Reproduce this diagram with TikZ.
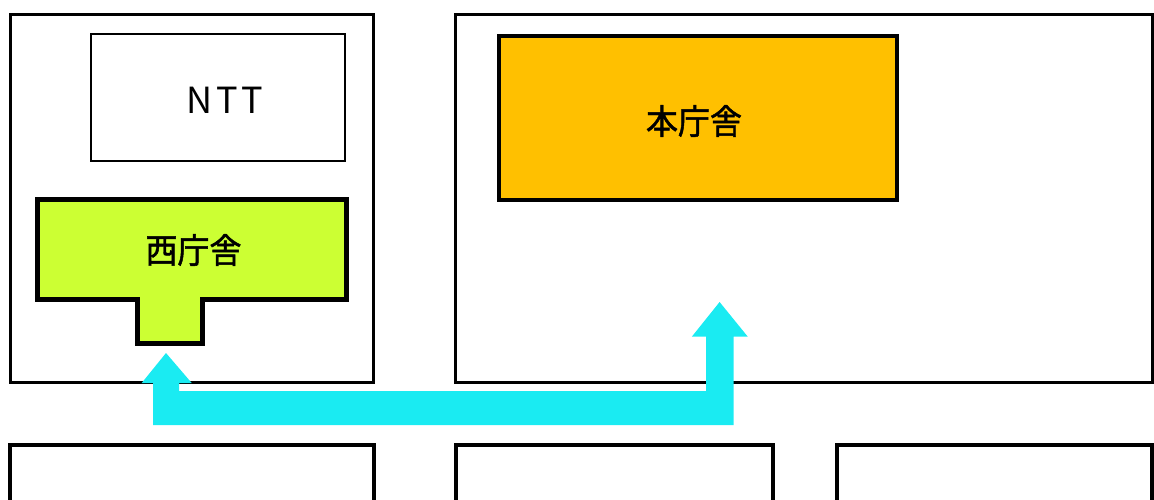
\documentclass[tikz,border=0pt]{standalone}
\usepackage{fontspec}
\newfontfamily\jp{Noto Sans CJK JP}
\newfontfamily\jpb[FakeBold=1.4]{Noto Sans CJK JP}
\definecolor{westc}{HTML}{CCFF33}
\definecolor{mainc}{HTML}{FFC000}
\definecolor{arrowc}{HTML}{1AEBF2}
\tikzset{
  block/.style={draw=black, line width=3pt},
  lowblock/.style={draw=black, line width=4pt},
  lbl/.style={font=\jpb\fontsize{32}{36}\selectfont, inner sep=0pt, yscale=1.08},
}
\begin{document}
\begin{tikzpicture}[x=1pt,y=-1pt]
\useasboundingbox (0,0) rectangle (1154,499);
% site blocks
\draw[block] (10,14) rectangle (373.5,382.5);
\draw[block] (455.7,14) rectangle (1152,382.5);
\draw[lowblock] (10,530) |- (373.5,445) -- (373.5,530);
\draw[lowblock] (455.5,530) |- (773,445) -- (773,530);
\draw[lowblock] (837,530) |- (1152,445) -- (1152,530);
% NTT
\draw[draw=black, line width=2pt] (91,34) rectangle (345,160.5);
\node[inner sep=0pt, font=\jp\fontsize{36}{40}\selectfont\addfontfeature{LetterSpace=10}] (ntt) at (225,100.5) {NTT};
% west building
\draw[line width=5pt, fill=westc, line join=miter]
  (37.5,199) -- (346,199) -- (346,299) -- (202,299) -- (202,343.7)
  -- (137.5,343.7) -- (137.5,299) -- (37.5,299) -- cycle;
\node[lbl] (west) at (193.5,250) {西庁舎};
% main building
\draw[line width=4pt, fill=mainc] (499,36.3) rectangle (897,199.5);
\node[lbl] (main) at (694,121) {本庁舎};
% double arrow
\fill[arrowc] (153,425) -- (153,383) -- (141.7,383) -- (166,353) -- (191.7,383)
  -- (179,383) -- (179,391) -- (706,391) -- (706,336.7) -- (691.8,336.7)
  -- (719.6,302) -- (747.8,336.7) -- (733.7,336.7) -- (733.7,425) -- cycle;
\end{tikzpicture}
\end{document}
